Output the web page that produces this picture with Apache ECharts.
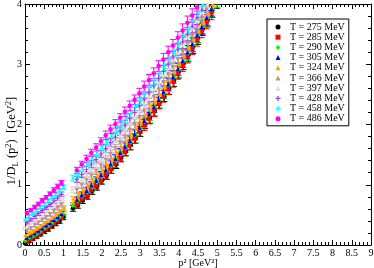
<!DOCTYPE html>
<html><head><meta charset="utf-8">
<script src="https://cdn.jsdelivr.net/npm/echarts@6/dist/echarts.min.js"></script>
<style>html,body{margin:0;padding:0;background:#fff}#c{width:374px;height:268px}</style>
</head><body><div id="c"></div>
<script>
// momentum grids (p^2 in GeV^2)
const xGridA = [0,0.1,0.2,0.3,0.4,0.5,0.6,0.7,0.8,0.9,1.0,
  1.25,1.375,1.5,1.625,1.75,1.875,2.0,2.125,2.25,2.375,2.5,2.625,2.75,2.875,3.0,3.125,3.25,3.375,3.5,3.625,3.75,3.875,4.0,4.125,4.25,4.375,4.5,4.625,4.75,4.875,5.0];
const xGridB = [0.05,0.15,0.25,0.35,0.45,0.55,0.65,0.75,0.85,0.95,
  1.35,1.475,1.6,1.725,1.85,1.975,2.1,2.225,2.35,2.475,2.6,2.725,2.85,2.975,3.1,3.225,3.35,3.475,3.6,3.725,3.85,3.975,4.1,4.225,4.35,4.475,4.6,4.725,4.85];
// error bars
const errA = [0.02,0.02,0.02,0.03,0.03,0.03,0.03,0.03,0.04,0.04,0.04,
  0.05,0.05,0.05,0.05,0.06,0.06,0.06,0.06,0.07,0.07,0.07,0.07,0.08,0.08,0.08,0.08,0.09,0.09,0.09,0.09,0.1,0.1,0.1,0.1,0.11,0.11,0.11,0.11,0.12,0.12,0.12];
const errB = [0.02,0.02,0.03,0.03,0.03,0.03,0.03,0.04,0.04,0.04,
  0.05,0.05,0.06,0.06,0.06,0.06,0.07,0.07,0.07,0.07,0.08,0.08,0.08,0.08,0.09,0.09,0.09,0.09,0.1,0.1,0.1,0.1,0.11,0.11,0.11,0.11,0.12,0.12,0.12];
// 1/D_L values per temperature
const T275 = [0.03,0.06,0.10,0.14,0.18,0.22,0.26,0.31,0.36,0.40,0.46,
  0.61,0.66,0.74,0.81,0.90,0.97,1.07,1.15,1.26,1.34,1.45,1.55,1.66,1.77,1.88,2.01,2.11,2.23,2.36,2.47,2.60,2.73,2.87,3.01,3.15,3.29,3.44,3.59,3.74,3.90,4.05];
const T285 = [0.07,0.10,0.14,0.18,0.22,0.27,0.31,0.36,0.41,0.46,
  0.68,0.77,0.83,0.92,0.99,1.08,1.17,1.26,1.36,1.47,1.56,1.66,1.77,1.89,1.99,2.10,2.22,2.35,2.47,2.60,2.72,2.85,2.99,3.13,3.27,3.41,3.56,3.71,3.86];
const T290 = [0.07,0.11,0.14,0.18,0.22,0.27,0.31,0.36,0.41,0.46,0.51,
  0.65,0.73,0.81,0.88,0.96,1.04,1.13,1.22,1.31,1.40,1.51,1.61,1.71,1.82,1.93,2.04,2.16,2.29,2.40,2.52,2.65,2.79,2.91,3.05,3.18,3.32,3.47,3.62,3.76,3.92,4.07];
const T305 = [0.12,0.16,0.20,0.24,0.28,0.33,0.37,0.42,0.47,0.52,
  0.75,0.83,0.90,0.99,1.07,1.16,1.24,1.34,1.43,1.53,1.63,1.73,1.84,1.95,2.06,2.18,2.29,2.41,2.54,2.67,2.79,2.92,3.06,3.20,3.33,3.48,3.62,3.77,3.92];
const T324 = [0.15,0.19,0.23,0.27,0.31,0.36,0.40,0.45,0.50,0.55,0.61,
  0.75,0.82,0.90,0.98,1.06,1.14,1.23,1.32,1.41,1.51,1.61,1.71,1.81,1.92,2.03,2.14,2.25,2.37,2.49,2.61,2.73,2.86,2.99,3.13,3.26,3.40,3.54,3.69,3.83,3.98];
const T366 = [0.24,0.28,0.33,0.37,0.42,0.46,0.51,0.57,0.62,0.67,
  0.91,0.99,1.07,1.15,1.23,1.32,1.41,1.51,1.60,1.70,1.80,1.91,2.01,2.12,2.23,2.35,2.46,2.58,2.70,2.83,2.95,3.08,3.21,3.34,3.47,3.61,3.75,3.90];
const T397 = [0.28,0.32,0.37,0.41,0.46,0.51,0.56,0.61,0.67,0.72,0.78,
  0.92,1.00,1.08,1.17,1.25,1.34,1.42,1.52,1.61,1.71,1.81,1.91,2.01,2.12,2.22,2.34,2.45,2.57,2.68,2.80,2.92,3.05,3.18,3.31,3.44,3.58,3.71,3.85,3.99];
const T428 = [0.37,0.42,0.47,0.52,0.57,0.62,0.67,0.73,0.78,0.84,
  1.09,1.17,1.25,1.34,1.42,1.51,1.60,1.70,1.79,1.89,1.99,2.10,2.20,2.31,2.42,2.53,2.64,2.76,2.88,3.00,3.12,3.25,3.37,3.50,3.63,3.77,3.90];
const T458 = [0.42,0.47,0.52,0.57,0.62,0.67,0.73,0.78,0.84,0.90,0.96,
  1.11,1.19,1.27,1.36,1.44,1.53,1.62,1.72,1.81,1.91,2.00,2.10,2.20,2.31,2.42,2.53,2.63,2.75,2.86,2.98,3.10,3.22,3.34,3.47,3.59,3.72,3.85,3.98];
const T486 = [0.53,0.58,0.63,0.68,0.74,0.79,0.85,0.91,0.97,1.03,
  1.24,1.34,1.43,1.53,1.62,1.72,1.82,1.92,2.01,2.11,2.21,2.31,2.41,2.52,2.63,2.74,2.85,2.97,3.08,3.20,3.31,3.44,3.56,3.69,3.81,3.94];
const names = ['T = 275 MeV','T = 285 MeV','T = 290 MeV','T = 305 MeV','T = 324 MeV','T = 366 MeV','T = 397 MeV','T = 428 MeV','T = 458 MeV','T = 486 MeV'];
const values = [T275,T285,T290,T305,T324,T366,T397,T428,T458,T486];
const grids = ['A','B','A','B','A','B','A','B','A','B'];
const xTicks = [0,0.5,1,1.5,2,2.5,3,3.5,4,4.5,5,5.5,6,6.5,7,7.5,8,8.5,9];
const yTicks = [0,1,2,3,4];

const colors = ['#000000','#ff0000','#00ff00','#0000ff','#ffa500','#bc8f8f','#dcdcdc','#a040e0','#00ffff','#ff00ff'];
const plusPath = 'path://M3,0h2v3h3v2h-3v3h-2v-3h-3v-2h3z';
const symbols = [
  {s:'circle',r:0},{s:'rect',r:0},{s:'diamond',r:0},{s:'triangle',r:0},{s:'triangle',r:90},
  {s:'triangle',r:180},{s:'triangle',r:-90},{s:plusPath,r:0},{s:plusPath,r:45},{s:'circle',r:0}
];
const FONT = 'Liberation Serif, Times New Roman, serif';

function errRender(params, api){
  const x = api.value(0), y = api.value(1), e = api.value(2);
  const t = api.coord([x, y + e]), b = api.coord([x, y - e]);
  const c = api.visual('color');
  const hw = 3;
  const st = {stroke: c, lineWidth: 1, fill: null};
  return {type:'group', children:[
    {type:'line', shape:{x1:t[0],y1:t[1],x2:b[0],y2:b[1]}, style:st},
    {type:'line', shape:{x1:t[0]-hw,y1:t[1],x2:t[0]+hw,y2:t[1]}, style:st},
    {type:'line', shape:{x1:b[0]-hw,y1:b[1],x2:b[0]+hw,y2:b[1]}, style:st}
  ]};
}

const series = [];
values.forEach((ys, i) => {
  const xs = grids[i] === 'A' ? xGridA : xGridB;
  const es = grids[i] === 'A' ? errA : errB;
  const d = ys.map((y, k) => [xs[k], y, es[k]]);
  series.push({
    name: names[i] + ' err', type: 'custom', renderItem: errRender, data: d,
    itemStyle: {color: colors[i]}, clip: true, z: 1, silent: true
  });
  series.push({
    name: names[i], type: 'scatter', data: d.map(p => [p[0], p[1]]), symbol: symbols[i].s, symbolRotate: symbols[i].r,
    symbolSize: 4.5, itemStyle: {color: colors[i], opacity: 1}, clip: true, z: 2, silent: true
  });
});

const axisCommon = {
  axisLine: {show: true, onZero: false, lineStyle: {color: '#000', width: 1}},
  axisTick: {show: true, inside: true, length: 5, lineStyle: {color: '#000'}},
  minorTick: {show: true, splitNumber: 5, length: 3, lineStyle: {color: '#000'}},
  splitLine: {show: false}, minorSplitLine: {show: false}
};

const chart = echarts.init(document.getElementById('c'), null, {renderer: 'canvas'});
chart.setOption({
  animation: false,
  backgroundColor: '#fff',
  grid: {left: 25, right: 3, top: 4, bottom: 23, containLabel: false, outerBoundsMode: 'none'},
  xAxis: [
    Object.assign({type: 'value', min: xTicks[0], max: xTicks[xTicks.length-1], interval: 0.5, position: 'bottom',
      name: 'p² [GeV²]', nameLocation: 'middle', nameGap: 13, nameMoveOverlap: false,
      nameTextStyle: {fontFamily: FONT, fontSize: 10, color: '#000'},
      axisLabel: {show: true, margin: 3, fontFamily: FONT, fontSize: 10, color: '#000'}}, axisCommon),
    Object.assign({type: 'value', min: xTicks[0], max: xTicks[xTicks.length-1], interval: 0.5, position: 'top',
      axisLabel: {show: false}}, axisCommon)
  ],
  yAxis: [
    Object.assign({type: 'value', min: yTicks[0], max: yTicks[yTicks.length-1], interval: 1, position: 'left',
      name: '1/D{sub|L} (p{sup|2})  [GeV{sup|2}]', nameLocation: 'middle', nameGap: 5, nameMoveOverlap: false,
      nameTextStyle: {fontFamily: FONT, fontSize: 12.5, color: '#000', lineHeight: 16, padding: [0, 33, 0, 0],
        rich: {
          sub: {fontFamily: FONT, fontSize: 8.5, lineHeight: 8, verticalAlign: 'bottom', color: '#000'},
          sup: {fontFamily: FONT, fontSize: 8.5, lineHeight: 8, verticalAlign: 'top', color: '#000'}
        }},
      axisLabel: {show: true, margin: 3, fontFamily: FONT, fontSize: 10, color: '#000'}}, axisCommon),
    Object.assign({type: 'value', min: yTicks[0], max: yTicks[yTicks.length-1], interval: 1, position: 'right',
      axisLabel: {show: false}}, axisCommon)
  ],
  legend: {
    data: names, orient: 'vertical', left: 267, top: 19,
    padding: [3, 4, 2, 8.5], itemGap: 0.2, itemWidth: 5, itemHeight: 5,
    borderColor: '#000', borderWidth: 1, borderRadius: 0, backgroundColor: '#fff',
    selectedMode: false,
    textStyle: {fontFamily: FONT, fontSize: 10, color: '#000', lineHeight: 10, padding: [0, 0, 0, 4.5]}
  },
  series: series
});
</script>
</body></html>
